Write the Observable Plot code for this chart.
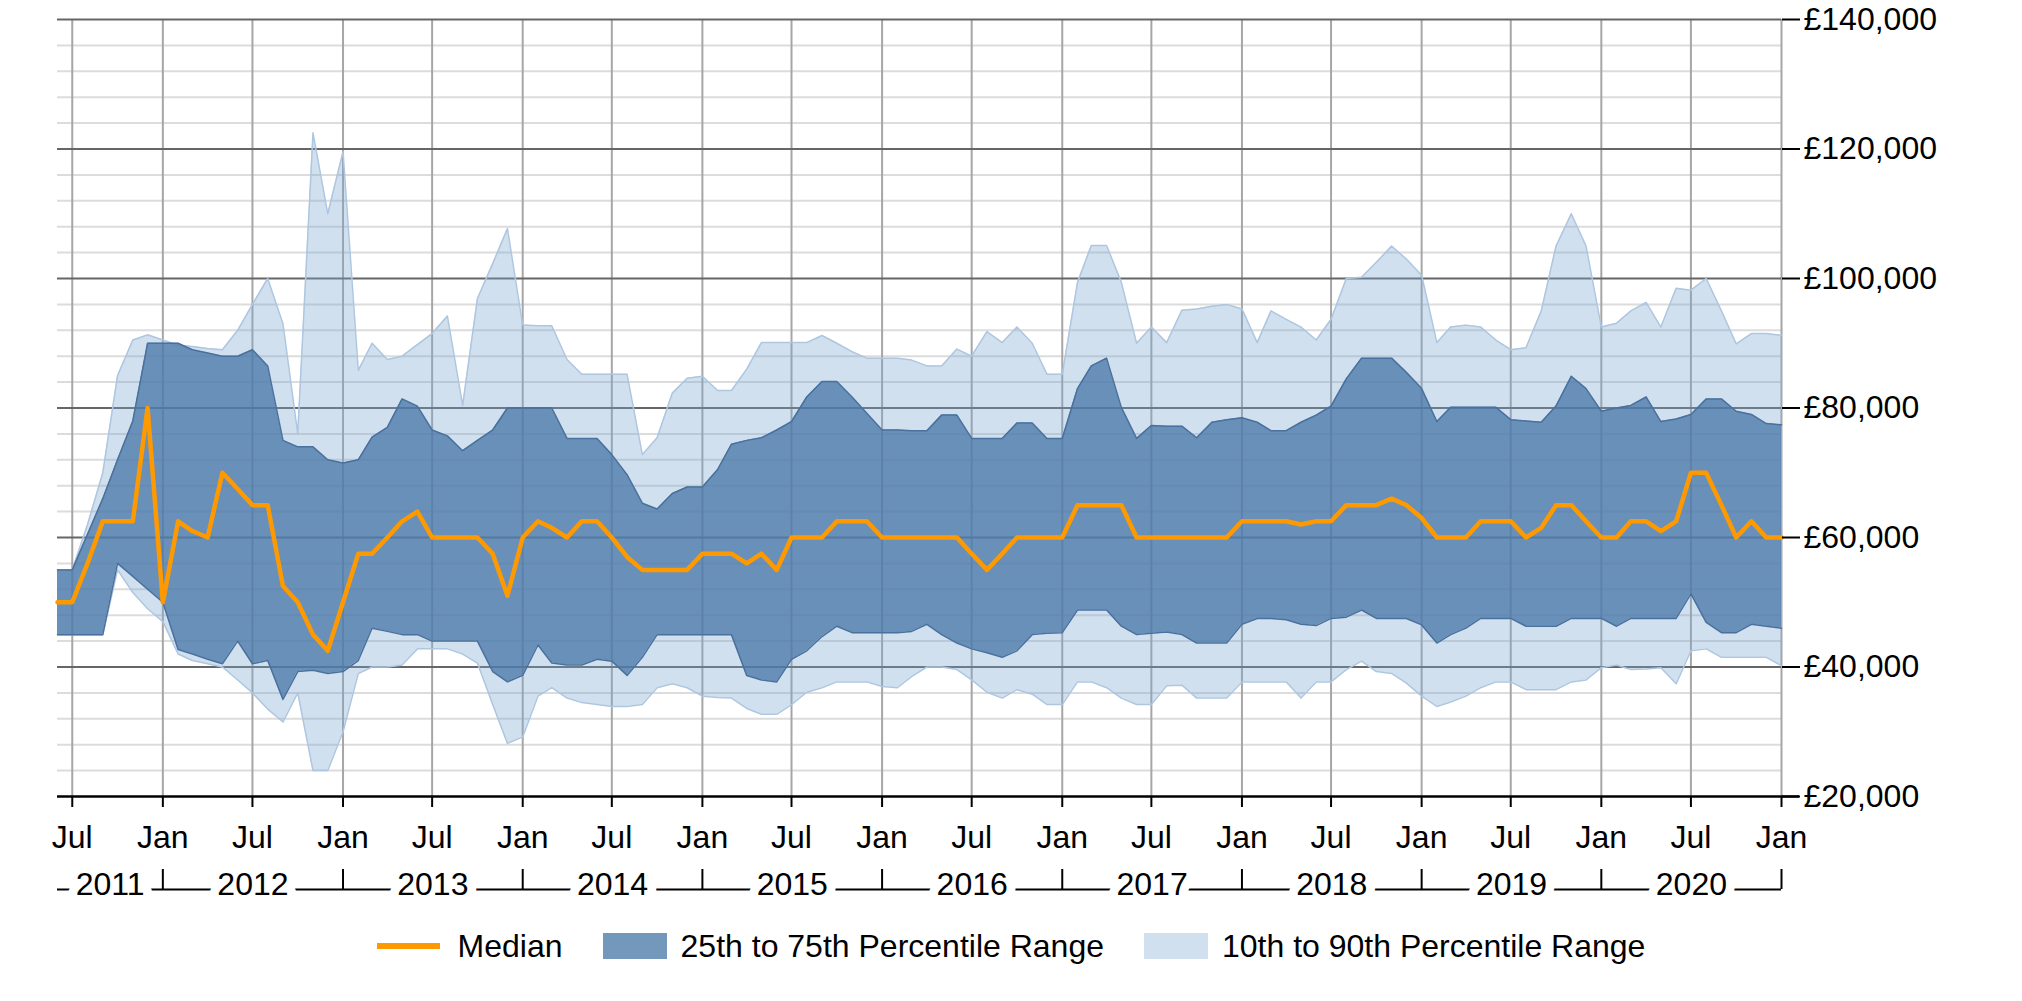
<!DOCTYPE html>
<html><head><meta charset="utf-8">
<script src="https://cdn.jsdelivr.net/npm/d3@7"></script>
<script src="https://cdn.jsdelivr.net/npm/@observablehq/plot@0.6"></script>
<style>
html,body{margin:0;padding:0;background:#fff;}
body{width:2022px;height:1001px;overflow:hidden;font-family:"Liberation Sans",Arial,sans-serif;}
#chart svg{display:block;}
#legend{display:flex;justify-content:center;align-items:center;height:26px;margin-top:18px;font-size:32px;color:#000;line-height:26px;}
.item{display:flex;align-items:center;margin:0 20px;white-space:nowrap;}
.sw{width:64px;height:26px;margin-right:14px;}
.ln{width:63px;height:6px;background:#ff9900;margin-right:18px;}
</style></head><body>
<div id="chart"></div>
<div id="legend"></div>
<script>
// ---- data (monthly, Jun 2011 .. Jan 2021) ----
const firstMonth = "2011-06-01";
const lastMonth = "2021-01-01";

const median = [50000,50000,56000,62500,62500,62500,80000,50000,62500,61000,
60000,70000,67500,65000,65000,52500,50000,45000,42500,50000,
57500,57500,60000,62500,64000,60000,60000,60000,60000,57500,
51000,60000,62500,61500,60000,62500,62500,60000,57000,55000,
55000,55000,55000,57500,57500,57500,56000,57500,55000,60000,
60000,60000,62500,62500,62500,60000,60000,60000,60000,60000,
60000,57500,55000,57500,60000,60000,60000,60000,65000,65000,
65000,65000,60000,60000,60000,60000,60000,60000,60000,62500,
62500,62500,62500,62000,62500,62500,65000,65000,65000,66000,
65000,63000,60000,60000,60000,62500,62500,62500,60000,61500,
65000,65000,62500,60000,60000,62500,62500,61000,62500,70000,
70000,65000,60000,62500,60000,60000];

const p75 = [55000,55000,60500,66000,72000,78000,90000,90000,90000,89000,
88500,88000,88000,89000,86500,75000,74000,74000,72000,71500,
72000,75500,77000,81400,80300,76600,75700,73400,75000,76600,
80000,80000,80000,80000,75300,75300,75300,72800,69700,65300,
64400,66800,67800,67800,70500,74400,75000,75400,76600,77900,
81700,84100,84100,81700,79200,76600,76600,76500,76500,78900,
78900,75300,75300,75300,77700,77700,75300,75300,83000,86500,
87700,80100,75300,77300,77200,77200,75400,77800,78200,78500,
77800,76500,76500,77800,78900,80300,84500,87700,87700,87700,
85500,83000,77900,80100,80100,80100,80100,78200,78000,77800,
80300,84900,83000,79500,80000,80400,81700,77900,78300,79000,
81400,81400,79500,79000,77600,77400];

const p25 = [45000,45000,45000,45000,56000,54000,52000,50000,42700,42000,
41200,40500,44000,40500,41000,35000,39300,39500,39000,39300,
41000,46000,45500,45000,45000,44000,44000,44000,44000,39300,
37700,38700,43400,40600,40300,40300,41200,40900,38700,41500,
45000,45000,45000,45000,45000,45000,38700,38000,37700,41200,
42500,44700,46300,45300,45300,45300,45300,45500,46600,45000,
43700,42800,42200,41500,42500,45000,45200,45300,48800,48800,
48800,46300,45000,45200,45400,45000,43700,43700,43700,46600,
47500,47500,47300,46600,46400,47500,47700,48800,47500,47500,
47500,46500,43700,45000,46000,47500,47500,47500,46300,46300,
46300,47500,47500,47500,46300,47500,47500,47500,47500,51300,
46900,45300,45300,46600,46300,46000];

const p90 = [55000,55000,62000,70000,85000,90500,91300,90500,89700,89500,
89200,89000,92000,96000,100000,93000,76000,122500,110000,119600,
85800,90000,87500,88000,89800,91500,94200,80400,96900,102300,
107700,92800,92700,92700,87500,85200,85200,85200,85200,72800,
75400,82300,84600,84900,82700,82700,86000,90100,90100,90100,
90100,91200,90000,88700,87700,87700,87700,87400,86500,86500,
89100,88000,91800,90100,92500,90000,85200,85200,99400,105100,
105100,99400,90000,92500,90100,95100,95300,95700,96000,95300,
90100,95000,93700,92500,90500,93700,100000,100200,102500,105000,
103000,100500,90100,92500,92800,92500,90500,89000,89300,95000,
105000,110000,105000,92500,93100,95000,96300,92500,98500,98200,
100000,95000,89900,91500,91500,91200];

const p10 = [45000,45000,45000,45000,55000,51500,49000,47000,42000,41000,
40500,40000,38000,36000,33500,31500,36000,24000,24000,30000,
39000,40000,40000,40300,42800,42800,42800,42000,40600,34200,
28200,29200,35500,36800,35200,34500,34200,33900,33900,34200,
36800,37400,36800,35500,35300,35200,33600,32700,32700,34200,
36100,36800,37700,37700,37700,37000,36800,38500,40000,40000,
39600,38000,36100,35200,36500,35800,34200,34200,37700,37700,
36800,35200,34200,34200,37100,37200,35200,35200,35200,37700,
37700,37700,37700,35200,37700,37700,39600,40900,39300,39000,
37500,35500,33900,34600,35500,36800,37700,37700,36500,36500,
36500,37700,38000,39900,40300,39600,39700,39900,37400,42500,
42800,41500,41500,41500,41500,40200];

const yTicks = [20000,40000,60000,80000,100000,120000,140000];
const yMinorStep = 4000;
const years = ["2011","2012","2013","2014","2015","2016","2017","2018","2019","2020"];
const legendItems = ["Median","25th to 75th Percentile Range","10th to 90th Percentile Range"];

// ---- build table ----
const start = new Date(firstMonth + "T00:00:00Z");
const end = new Date(lastMonth + "T00:00:00Z");
const months = d3.utcMonth.range(start, d3.utcMonth.offset(end, 1));
const rows = months.map((date, i) => ({date, median: median[i], p10: p10[i], p25: p25[i], p75: p75[i], p90: p90[i]}));
const xTicks = d3.utcMonth.every(6).range(d3.utcMonth.offset(start, 1), d3.utcDay.offset(end, 1));
const janTicks = xTicks.filter(d => d.getUTCMonth() === 0);
const minor = d3.range(yTicks[0], yTicks[yTicks.length-1], yMinorStep).filter(v => v % 20000 !== 0);
const yearRows = years.map(y => {
  const a = new Date(Math.max(+start, Date.UTC(+y, 0, 1)));
  const b = new Date(Math.min(+end, Date.UTC(+y + 1, 0, 1)));
  return {label: y, mid: new Date((+a + +b) / 2)};
});

const LIGHT = "rgb(123,166,209)";
const DARK = "rgb(74,120,168)";

const chart = Plot.plot({
  width: 2022, height: 915,
  marginLeft: 57, marginRight: 241, marginTop: 19, marginBottom: 119,
  style: {fontFamily: "'Liberation Sans', Arial, sans-serif", fontSize: "32px", background: "#fff", color: "#000"},
  x: {type: "utc", domain: [start, end], label: null},
  y: {domain: [yTicks[0], yTicks[yTicks.length-1]], label: null},
  marks: [
    Plot.ruleY(minor, {stroke: "#dcdcdc", strokeWidth: 2}),
    Plot.ruleX(xTicks, {stroke: "#a6a6a6", strokeWidth: 2}),
    Plot.ruleY(yTicks.slice(1), {stroke: "#666", strokeWidth: 2}),
    Plot.areaY(rows, {x: "date", y1: "p10", y2: "p90", fill: LIGHT, fillOpacity: 0.35}),
    Plot.lineY(rows, {x: "date", y: "p90", stroke: "#aec6e0", strokeWidth: 1.5}),
    Plot.lineY(rows, {x: "date", y: "p10", stroke: "#aec6e0", strokeWidth: 1.5}),
    Plot.areaY(rows, {x: "date", y1: "p25", y2: "p75", fill: DARK, fillOpacity: 0.77}),
    Plot.lineY(rows, {x: "date", y: "p75", stroke: "#4a719d", strokeWidth: 1.5}),
    Plot.lineY(rows, {x: "date", y: "p25", stroke: "#4a719d", strokeWidth: 1.5}),
    Plot.lineY(rows, {x: "date", y: "median", stroke: "#ff9900", strokeWidth: 4.5}),
    Plot.ruleY([yTicks[0]], {stroke: "#000", strokeWidth: 2.5, insetRight: -18}),
    Plot.axisX(xTicks, {anchor: "bottom", tickSize: 11, tickPadding: 18, tickFormat: d3.utcFormat("%b"),
      fontSize: 32, stroke: "#000", strokeWidth: 2, fill: "#000", label: null}),
    Plot.axisY(yTicks, {anchor: "right", tickSize: 18, tickPadding: 4,
      tickFormat: d => "£" + d3.format(",")(d), fontSize: 32, stroke: "#000", strokeWidth: 2, fill: "#000", label: null}),
    Plot.ruleY([yTicks[0]], {x1: () => start, x2: () => end, dy: 93, stroke: "#000", strokeWidth: 2}),
    Plot.ruleX(janTicks, {insetTop: 757, dy: 93, stroke: "#000", strokeWidth: 2}),
    Plot.text(yearRows, {x: "mid", text: "label", frameAnchor: "bottom", dy: 98, fontSize: 32,
      fill: "#000", stroke: "#fff", strokeWidth: 18, strokeLinejoin: "round"})
  ]
});
document.getElementById("chart").appendChild(chart);

// ---- legend ----
const lg = document.getElementById("legend");
const swatches = [
  `<span class="ln"></span>`,
  `<span class="sw" style="background:${DARK};opacity:0.77"></span>`,
  `<span class="sw" style="background:${LIGHT};opacity:0.35"></span>`
];
legendItems.forEach((t, i) => {
  const d = document.createElement("div");
  d.className = "item";
  d.innerHTML = swatches[i] + `<span>${t}</span>`;
  lg.appendChild(d);
});
</script></body></html>
